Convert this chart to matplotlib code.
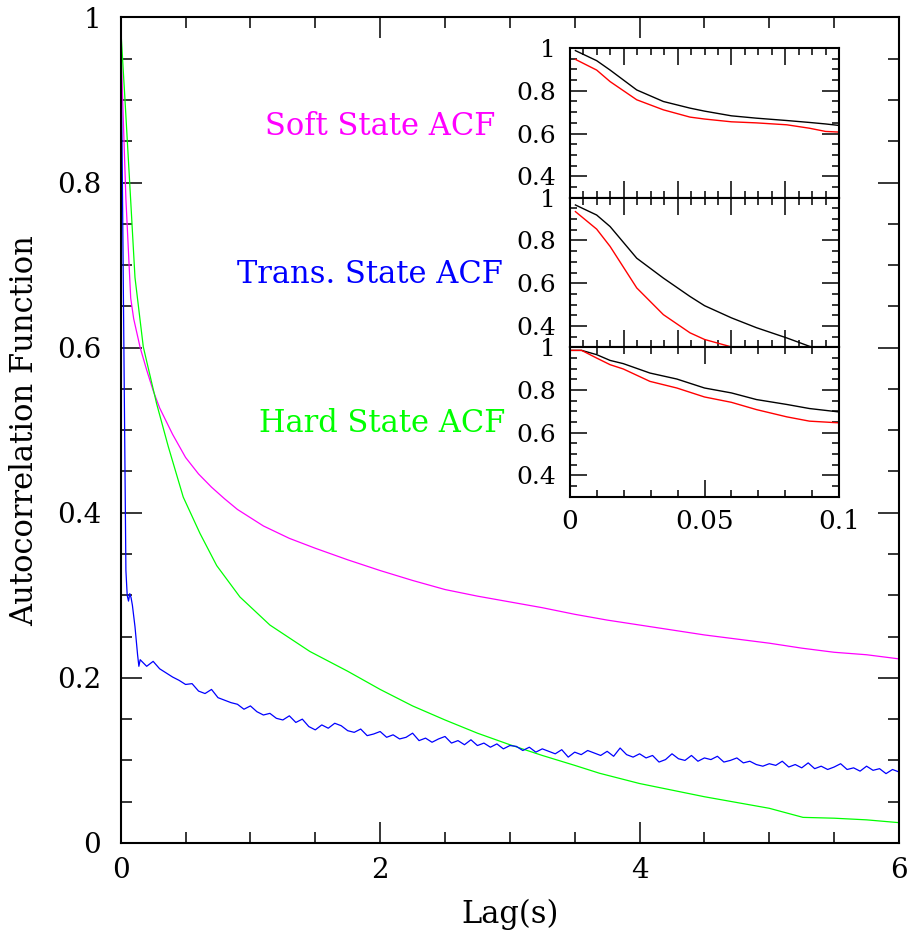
import matplotlib

matplotlib.use("Agg")
import matplotlib.pyplot as plt
from matplotlib.ticker import MultipleLocator, FuncFormatter

plt.rcParams["font.family"] = ["DejaVu Serif"]

# main panel: soft state ACF (magenta)
soft_lag = [0.0, 0.015, 0.04, 0.077, 0.1, 0.15, 0.2, 0.25, 0.3, 0.4, 0.5, 0.6,
            0.7, 0.8, 0.9, 1.1, 1.3, 1.5, 1.75, 2.0, 2.25, 2.5, 2.75, 3.0,
            3.25, 3.5, 3.75, 4.0, 4.25, 4.5, 4.75, 5.0, 5.25, 5.5, 5.75, 6.0]
soft_acf = [0.98, 0.90, 0.78, 0.66, 0.635, 0.60, 0.573, 0.548, 0.527, 0.495,
            0.467, 0.447, 0.431, 0.417, 0.404, 0.384, 0.369, 0.357, 0.343,
            0.330, 0.318, 0.307, 0.299, 0.292, 0.285, 0.277, 0.270, 0.264,
            0.258, 0.252, 0.247, 0.242, 0.236, 0.231, 0.228, 0.223]

# main panel: hard state ACF (green)
hard_lag = [0.0, 0.033, 0.077, 0.11, 0.174, 0.277, 0.367, 0.482, 0.611, 0.74,
            0.919, 1.15, 1.458, 1.75, 2.0, 2.25, 2.5, 2.75, 3.0, 3.25, 3.5,
            3.69, 4.0, 4.5, 5.0, 5.26, 5.5, 5.75, 6.0]
hard_acf = [0.988, 0.90, 0.778, 0.685, 0.601, 0.532, 0.480, 0.419, 0.375,
            0.336, 0.298, 0.264, 0.232, 0.208, 0.186, 0.166, 0.149, 0.133,
            0.119, 0.106, 0.094, 0.0845, 0.072, 0.056, 0.042, 0.031, 0.030,
            0.028, 0.0246]

# main panel: transitional state ACF (blue), noisy tail read every 0.05 s
trans_lag = [0.0, 0.01, 0.02, 0.03, 0.04, 0.05, 0.06, 0.07, 0.08, 0.09, 0.11,
             0.13, 0.14,
             0.15, 0.20, 0.25, 0.30, 0.35, 0.40, 0.45, 0.50, 0.55, 0.60, 0.65,
             0.70, 0.75, 0.80, 0.85, 0.90, 0.95, 1.00, 1.05, 1.10, 1.15, 1.20,
             1.25, 1.30, 1.35, 1.40, 1.45, 1.50, 1.55, 1.60, 1.65, 1.70, 1.75,
             1.80, 1.85, 1.90, 1.95, 2.00, 2.05, 2.10, 2.15, 2.20, 2.25, 2.30,
             2.35, 2.40, 2.45, 2.50, 2.55, 2.60, 2.65, 2.70, 2.75, 2.80, 2.85,
             2.90, 2.95, 3.00, 3.05, 3.10, 3.15, 3.20, 3.25, 3.30, 3.35, 3.40,
             3.45, 3.50, 3.55, 3.60, 3.65, 3.70, 3.75, 3.80, 3.85, 3.90, 3.95,
             4.00, 4.05, 4.10, 4.15, 4.20, 4.25, 4.30, 4.35, 4.40, 4.45, 4.50,
             4.55, 4.60, 4.65, 4.70, 4.75, 4.80, 4.85, 4.90, 4.95, 5.00, 5.05,
             5.10, 5.15, 5.20, 5.25, 5.30, 5.35, 5.40, 5.45, 5.50, 5.55, 5.60,
             5.65, 5.70, 5.75, 5.80, 5.85, 5.90, 5.95, 6.00]
trans_acf = [0.97, 0.85, 0.68, 0.50, 0.33, 0.300, 0.293, 0.302, 0.297, 0.288,
             0.262, 0.228, 0.214,
             0.222, 0.214, 0.220, 0.211, 0.206, 0.201, 0.197, 0.192, 0.193,
             0.184, 0.181, 0.186, 0.176, 0.173, 0.170, 0.168, 0.162, 0.166,
             0.159, 0.155, 0.157, 0.151, 0.149, 0.154, 0.146, 0.150, 0.141,
             0.137, 0.143, 0.139, 0.145, 0.142, 0.136, 0.134, 0.138, 0.130,
             0.132, 0.135, 0.128, 0.131, 0.126, 0.128, 0.133, 0.124, 0.127,
             0.122, 0.126, 0.129, 0.121, 0.124, 0.119, 0.125, 0.118, 0.121,
             0.116, 0.120, 0.114, 0.118, 0.117, 0.112, 0.116, 0.110, 0.114,
             0.111, 0.108, 0.113, 0.104, 0.110, 0.107, 0.112, 0.109, 0.106,
             0.111, 0.105, 0.115, 0.107, 0.104, 0.108, 0.103, 0.106, 0.098,
             0.101, 0.108, 0.102, 0.100, 0.106, 0.099, 0.103, 0.101, 0.105,
             0.098, 0.100, 0.103, 0.097, 0.099, 0.095, 0.093, 0.096, 0.094,
             0.099, 0.092, 0.095, 0.091, 0.097, 0.090, 0.093, 0.089, 0.092,
             0.096, 0.089, 0.091, 0.087, 0.093, 0.088, 0.090, 0.084, 0.089,
             0.086]

# inset panels (first 0.1 s): black and red curves per state
inset_lag = [0.002, 0.0099, 0.0149, 0.0248, 0.0347, 0.0446, 0.050, 0.060,
             0.0693, 0.0806, 0.089, 0.095, 0.1]
soft_black = [0.988, 0.941, 0.897, 0.804, 0.750, 0.719, 0.705, 0.683, 0.672,
              0.661, 0.652, 0.645, 0.638]
soft_red = [0.947, 0.897, 0.843, 0.758, 0.711, 0.677, 0.668, 0.655, 0.650,
            0.641, 0.625, 0.610, 0.607]
trans_black = [0.966, 0.919, 0.865, 0.717, 0.624, 0.538, 0.495, 0.438, 0.392,
               0.344, 0.305, 0.285, 0.27]
trans_red = [0.935, 0.853, 0.772, 0.578, 0.453, 0.368, 0.337, 0.302, 0.27,
             0.24, 0.22, 0.21, 0.20]
hard_lag_inset = [0.0, 0.0043, 0.0099, 0.0149, 0.0198, 0.0297, 0.0397, 0.050,
                  0.060, 0.0693, 0.0806, 0.089, 0.1]
hard_black = [0.985, 0.985, 0.965, 0.938, 0.923, 0.879, 0.851, 0.809, 0.786,
              0.755, 0.732, 0.713, 0.697]
hard_red = [0.985, 0.985, 0.949, 0.918, 0.898, 0.840, 0.809, 0.767, 0.742,
            0.708, 0.674, 0.654, 0.646]

labels = ["Soft State ACF", "Trans. State ACF", "Hard State ACF"]
label_colors = ["#ff00ff", "#0000ff", "#00ff00"]


def _fmt(value, _pos):
    return "%g" % round(value, 3)


def _style(ax, major_len, minor_len):
    for spine in ax.spines.values():
        spine.set_linewidth(1.5)
    ax.tick_params(which="both", direction="in", top=True, right=True,
                   width=1.1, colors="black")
    ax.tick_params(which="major", length=major_len)
    ax.tick_params(which="minor", length=minor_len)


fig = plt.figure(figsize=(9.09, 9.33), dpi=100)
ax = fig.add_axes([0.1328, 0.0965, 0.8562, 0.8848])
ax.plot(soft_lag, soft_acf, color="#ff00ff", lw=0.9)
ax.plot(hard_lag, hard_acf, color="#00ff00", lw=0.9)
ax.plot(trans_lag, trans_acf, color="#0000ff", lw=0.9)
ax.set_xlim(0, 6)
ax.set_ylim(0, 1)
ax.xaxis.set_major_locator(MultipleLocator(2))
ax.xaxis.set_minor_locator(MultipleLocator(0.5))
ax.yaxis.set_major_locator(MultipleLocator(0.2))
ax.yaxis.set_minor_locator(MultipleLocator(0.05))
ax.xaxis.set_major_formatter(FuncFormatter(_fmt))
ax.yaxis.set_major_formatter(FuncFormatter(_fmt))
_style(ax, 15, 8)
ax.tick_params(axis="x", pad=10, labelsize=20)
ax.tick_params(axis="y", pad=14, labelsize=20)
ax.set_xlabel("Lag(s)", fontsize=22, labelpad=11)
ax.set_ylabel("Autocorrelation Function", fontsize=22, labelpad=12)

for text, color, xc, yb in zip(labels, label_colors,
                               [2.0, 1.922, 2.016], [0.857, 0.678, 0.4976]):
    ax.text(xc, yb, text, color=color, fontsize=22, ha="center", va="baseline")

# stacked inset panels
bottoms = [0.7881, 0.6277, 0.4675]
inset_sets = [
    (inset_lag, soft_black, soft_red),
    (inset_lag, trans_black, trans_red),
    (hard_lag_inset, hard_black, hard_red),
]
for i, (bottom, (lag, black, red)) in enumerate(zip(bottoms, inset_sets)):
    axi = fig.add_axes([0.6271, bottom, 0.2959, 0.1604])
    axi.set_facecolor("white")
    axi.plot(lag, black, color="black", lw=1.0)
    axi.plot(lag, red, color="#ff0000", lw=1.0)
    axi.set_xlim(0, 0.1)
    axi.set_ylim(0.3, 1.0)
    axi.yaxis.set_major_locator(MultipleLocator(0.2))
    axi.yaxis.set_minor_locator(MultipleLocator(0.05))
    axi.yaxis.set_major_formatter(FuncFormatter(_fmt))
    if i < 2:
        axi.xaxis.set_major_locator(MultipleLocator(0.02))
        axi.xaxis.set_minor_locator(MultipleLocator(0.005))
        axi.tick_params(axis="x", labelbottom=False)
    else:
        axi.xaxis.set_major_locator(MultipleLocator(0.05))
        axi.xaxis.set_minor_locator(MultipleLocator(0.01))
        axi.xaxis.set_major_formatter(FuncFormatter(_fmt))
    _style(axi, 12, 5)
    axi.tick_params(axis="x", pad=9, labelsize=19)
    axi.tick_params(axis="y", pad=10, labelsize=18)

fig.savefig("out.png", dpi=100)
plt.close(fig)
